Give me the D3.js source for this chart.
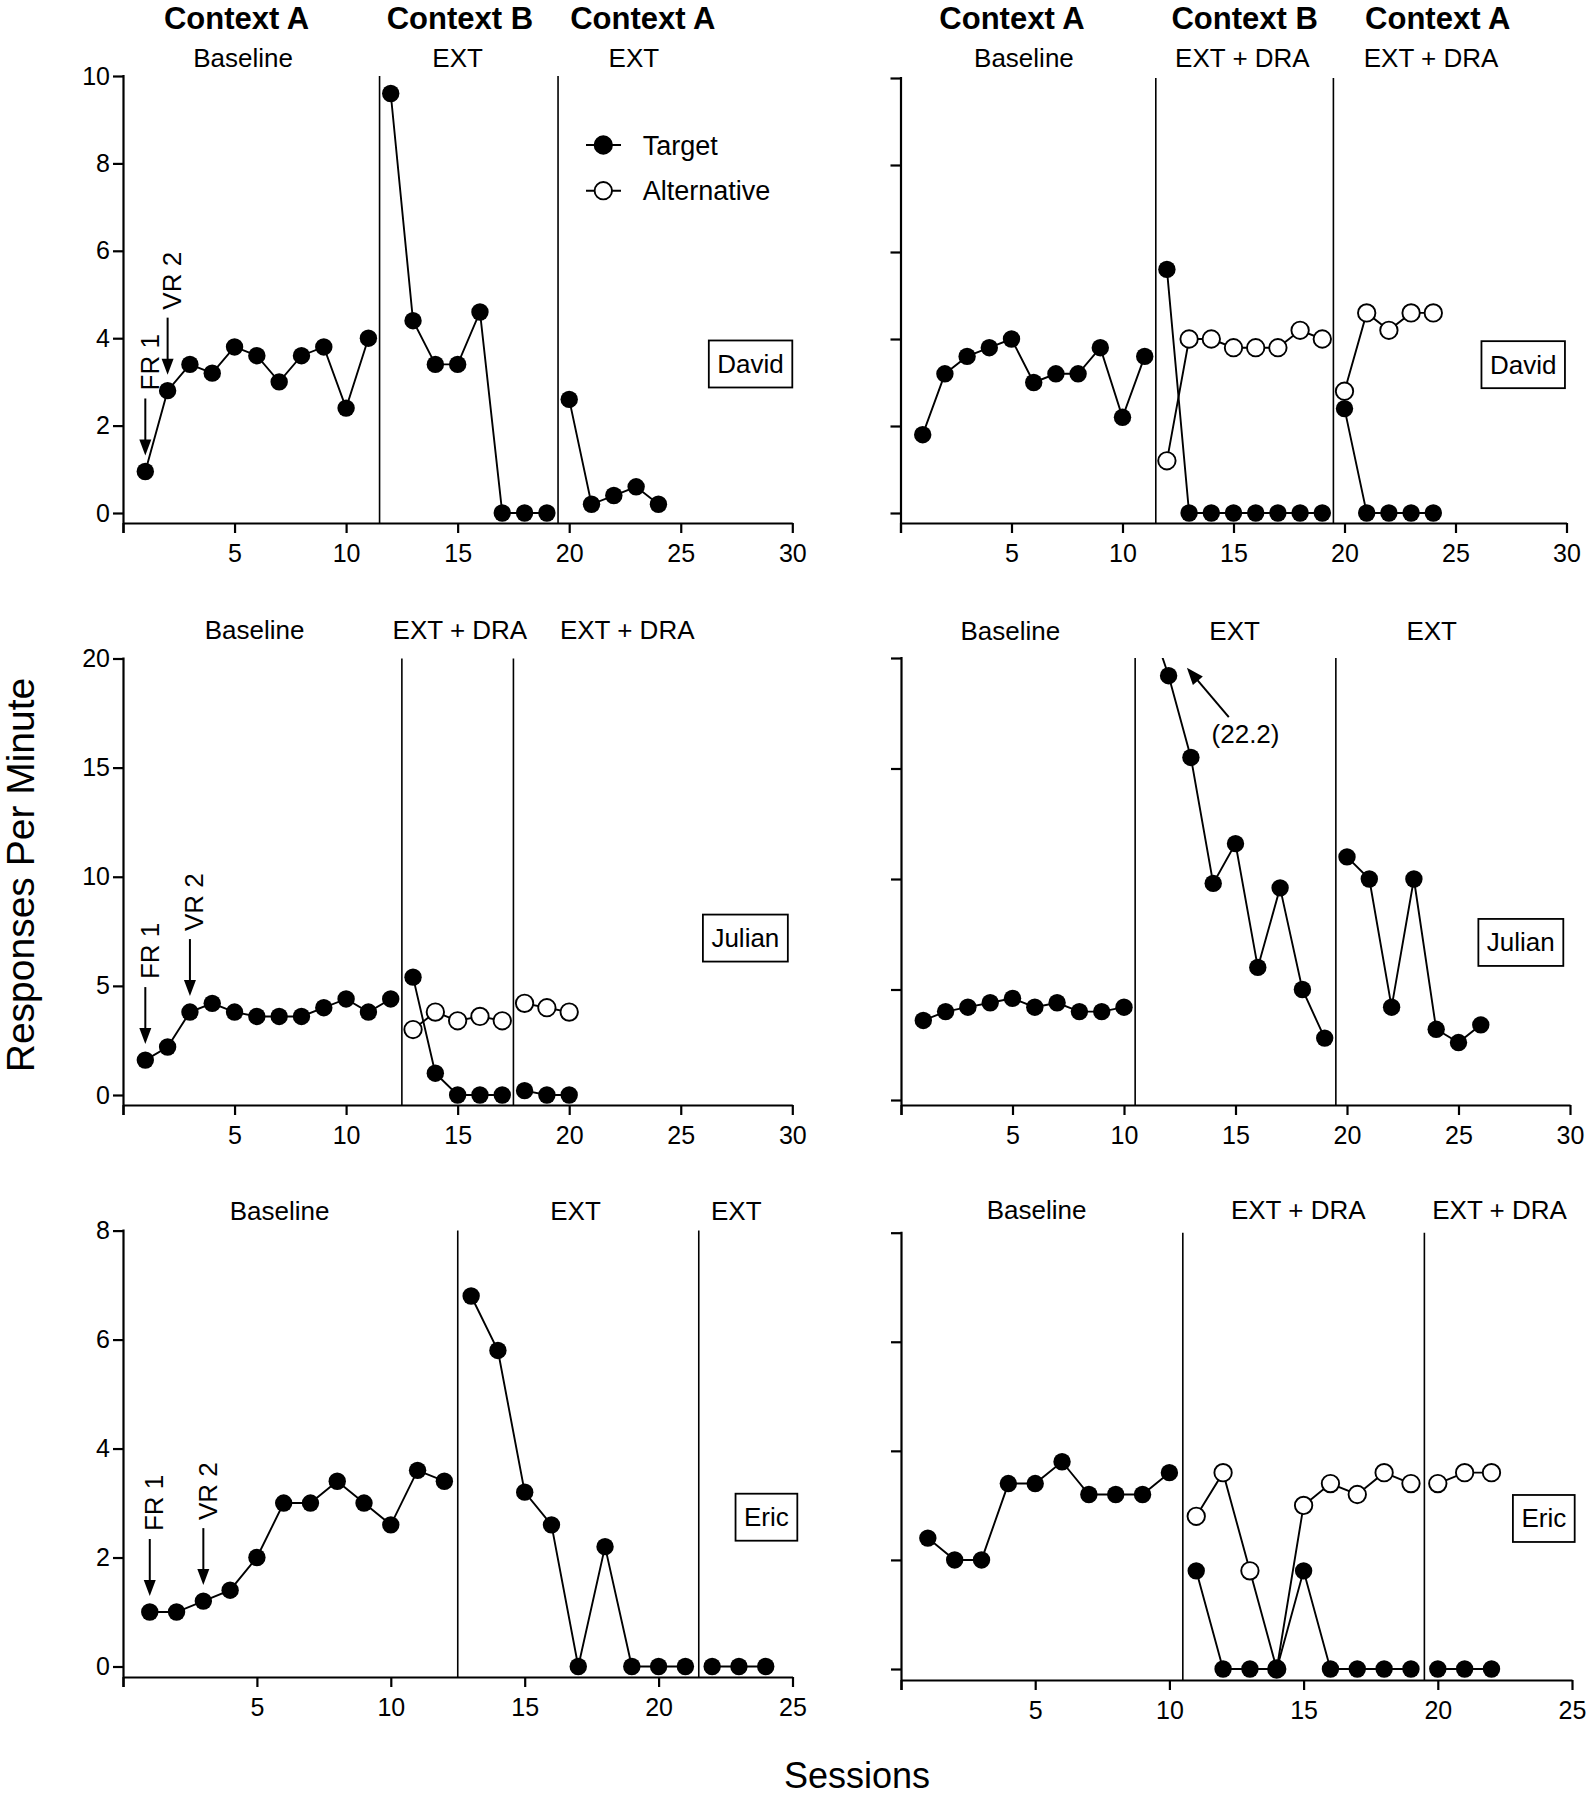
<!DOCTYPE html>
<html>
<head>
<meta charset="utf-8">
<script src="https://cdnjs.cloudflare.com/ajax/libs/d3/7.8.5/d3.min.js"></script>
<style>
  body { margin: 0; background: #fff; }
  svg { display: block; }
  text { font-family: "Liberation Sans", Arial, Helvetica, sans-serif; fill: #000; }
</style>
</head>
<body>
<div id="chart"></div>
<script>
var WIDTH = 1587
var HEIGHT = 1800

// session n sits at index n-1, null = no data for that session
const davidExtTarget = [0.95, 2.8, 3.4, 3.2, 3.8, 3.6, 3.0, 3.6, 3.8, 2.4, 4.0,
    9.6, 4.4, 3.4, 3.4, 4.6, 0, 0, 0,
    2.6, 0.2, 0.4, 0.6, 0.2];
const davidDraTarget = [1.8, 3.2, 3.6, 3.8, 4.0, 3.0, 3.2, 3.2, 3.8, 2.2, 3.6,
    5.6, 0, 0, 0, 0, 0, 0, 0,
    2.4, 0, 0, 0, 0];
const davidDraAlt = [null, null, null, null, null, null, null, null, null, null, null,
    1.2, 4.0, 4.0, 3.8, 3.8, 3.8, 4.2, 4.0,
    2.8, 4.6, 4.2, 4.6, 4.6];
const julianDraTarget = [1.6, 2.2, 3.8, 4.2, 3.8, 3.6, 3.6, 3.6, 4.0, 4.4, 3.8, 4.4,
    5.4, 1.0, 0, 0, 0,
    0.2, 0, 0];
const julianDraAlt = [null, null, null, null, null, null, null, null, null, null, null, null,
    3.0, 3.8, 3.4, 3.6, 3.4,
    4.2, 4.0, 3.8];
const julianExtTarget = [3.6, 4.0, 4.2, 4.4, 4.6, 4.2, 4.4, 4.0, 4.0, 4.2,
    22.2, 19.2, 15.5, 9.8, 11.6, 6.0, 9.6, 5.0, 2.8,
    11.0, 10.0, 4.2, 10.0, 3.2, 2.6, 3.4];
const ericExtTarget = [1.0, 1.0, 1.2, 1.4, 2.0, 3.0, 3.0, 3.4, 3.0, 2.6, 3.6, 3.4,
    6.8, 5.8, 3.2, 2.6, 0, 2.2, 0, 0, 0,
    0, 0, 0];
const ericDraTarget = [2.4, 2.0, 2.0, 3.4, 3.4, 3.8, 3.2, 3.2, 3.2, 3.6,
    1.8, 0, 0, 0, 1.8, 0, 0, 0, 0,
    0, 0, 0];
const ericDraAlt = [null, null, null, null, null, null, null, null, null, null,
    2.8, 3.6, 1.8, 0, 3.0, 3.4, 3.2, 3.6, 3.4,
    3.4, 3.6, 3.6];

// phase change lines (between sessions)
const davidExtChanges = [11.5, 19.5];
const davidDraChanges = [11.5, 19.5];
const julianDraChanges = [12.5, 17.5];
const julianExtChanges = [10.5, 19.5];
const ericExtChanges = [12.5, 21.5];
const ericDraChanges = [10.5, 19.5];

// ticks
const xTicks30 = [0, 5, 10, 15, 20, 25, 30];
const xTicks25 = [0, 5, 10, 15, 20, 25];
const yTicks10 = [0, 2, 4, 6, 8, 10];
const yTicks20 = [0, 5, 10, 15, 20];
const yTicks8 = [0, 2, 4, 6, 8];

// labels
const contextNames = ['Context A', 'Context B', 'Context A'];
const phasesExt = ['Baseline', 'EXT', 'EXT'];
const phasesDra = ['Baseline', 'EXT + DRA', 'EXT + DRA'];
const seriesNames = ['Target', 'Alternative'];

const panels = [
    { name: 'David', target: davidExtTarget, alt: null, changes: davidExtChanges,
      xMax: 30, xTicks: xTicks30, yMax: 10, yTicks: yTicks10, yLabels: true,
      left: 123, right: 792.3, topY: 76, zeroY: 513, axisY: 523,
      phases: phasesExt, phaseX: [5.38, 15.0, 22.9], phaseY: 67,
      contexts: contextNames, contextX: [5.09, 15.1, 23.3], contextY: 29,
      namePos: [30.0, 3.41], rate: [['FR 1', 1], ['VR 2', 2]], legend: true },
    { name: 'David', target: davidDraTarget, alt: davidDraAlt, changes: davidDraChanges,
      xMax: 30, xTicks: xTicks30, yMax: 10, yTicks: yTicks10, yLabels: false,
      left: 900.5, right: 1566.5, topY: 78, zeroY: 513, axisY: 523,
      phases: phasesDra, phaseX: [5.56, 15.4, 23.9], phaseY: 67,
      contexts: contextNames, contextX: [5.02, 15.5, 24.2], contextY: 29,
      namePos: [29.93, 3.41], rate: [] },
    { name: 'Julian', target: julianDraTarget, alt: julianDraAlt, changes: julianDraChanges,
      xMax: 30, xTicks: xTicks30, yMax: 20, yTicks: yTicks20, yLabels: true,
      left: 123, right: 792.3, topY: 658.5, zeroY: 1095, axisY: 1105,
      phases: phasesDra, phaseX: [5.9, 15.1, 22.6], phaseY: 639,
      namePos: [29.8, 7.19], rate: [['FR 1', 1], ['VR 2', 3]] },
    { name: 'Julian', target: julianExtTarget, alt: null, changes: julianExtChanges,
      xMax: 30, xTicks: xTicks30, yMax: 20, yTicks: yTicks20, yLabels: false,
      left: 901, right: 1570, topY: 658, zeroY: 1100, axisY: 1105,
      phases: phasesExt, phaseX: [4.9, 14.96, 23.8], phaseY: 640,
      namePos: [29.7, 7.13], rate: [], offscale: true },
    { name: 'Eric', target: ericExtTarget, alt: null, changes: ericExtChanges,
      xMax: 25, xTicks: xTicks25, yMax: 8, yTicks: yTicks8, yLabels: true,
      left: 123, right: 792.5, topY: 1230.6, zeroY: 1666.5, axisY: 1677,
      phases: phasesExt, phaseX: [5.85, 16.9, 22.9], phaseY: 1220,
      namePos: [25.18, 2.74], rate: [['FR 1', 1], ['VR 2', 3]] },
    { name: 'Eric', target: ericDraTarget, alt: ericDraAlt, changes: ericDraChanges,
      xMax: 25, xTicks: xTicks25, yMax: 8, yTicks: yTicks8, yLabels: false,
      left: 901, right: 1572, topY: 1232.7, zeroY: 1669, axisY: 1680,
      phases: phasesDra, phaseX: [5.05, 14.8, 22.3], phaseY: 1219,
      namePos: [25.1, 2.76], rate: [] }
];

const R = 8.7;

const svg = d3.select('#chart').append('svg')
    .attr('width', WIDTH)
    .attr('height', HEIGHT);

svg.append('rect')
    .attr('width', WIDTH)
    .attr('height', HEIGHT)
    .attr('fill', '#fff');

const defs = svg.append('defs');

panels.forEach((p, i) => drawPanel(p, i));

// axis titles
svg.append('text')
    .attr('transform', 'translate(34,875) rotate(-90)')
    .attr('text-anchor', 'middle')
    .attr('font-size', 39)
    .text('Responses Per Minute');

svg.append('text')
    .attr('x', 857)
    .attr('y', 1788)
    .attr('text-anchor', 'middle')
    .attr('font-size', 36)
    .text('Sessions');


function segments(values, changes) {
    let segs = [];
    let cur = null;
    let curPhase = -1;
    values.forEach((v, i) => {
        if (v === null) return;
        let s = i + 1;
        let ph = changes.filter(c => c < s).length;
        if (ph !== curPhase) {
            cur = [];
            segs.push(cur);
            curPhase = ph;
        }
        cur.push({ s: s, v: v });
    });
    return segs;
}

function arrowHead(g, x1, y1, x2, y2, len, half) {
    // filled triangle at (x2,y2) pointing from (x1,y1)
    let dx = x2 - x1, dy = y2 - y1;
    let d = Math.sqrt(dx * dx + dy * dy);
    let ux = dx / d, uy = dy / d;
    let bx = x2 - ux * len, by = y2 - uy * len;
    g.append('line')
        .attr('x1', x1).attr('y1', y1)
        .attr('x2', bx + ux * 2).attr('y2', by + uy * 2)
        .attr('stroke', '#000')
        .attr('stroke-width', 2);
    g.append('polygon')
        .attr('points', [
            [x2, y2],
            [bx - uy * half, by + ux * half],
            [bx + uy * half, by - ux * half]
        ].map(q => q.join(',')).join(' '))
        .attr('fill', '#000');
}

function drawPanel(p, idx) {
    let xScale = d3.scaleLinear().domain([0, p.xMax]).range([p.left, p.right]);
    let yScale = d3.scaleLinear().domain([0, p.yMax]).range([p.zeroY, p.topY]);

    let g = svg.append('g');

    let clipId = 'clip' + idx;
    defs.append('clipPath').attr('id', clipId)
        .append('rect')
        .attr('x', p.left - 20)
        .attr('y', p.topY)
        .attr('width', p.right - p.left + 40)
        .attr('height', p.axisY - p.topY);

    // x axis
    let xAxis = d3.axisBottom(xScale)
        .tickValues(p.xTicks)
        .tickSize(10)
        .tickSizeOuter(0)
        .tickPadding(11)
        .tickFormat(d => d === 0 ? '' : d);
    let xa = g.append('g')
        .attr('transform', 'translate(0,' + p.axisY + ')')
        .call(xAxis);
    xa.select('.domain').attr('stroke-width', 2.2);
    xa.selectAll('.tick line').attr('stroke-width', 2.2);
    xa.selectAll('.tick text')
        .attr('font-size', 25)
        .attr('font-family', '"Liberation Sans", Arial, Helvetica, sans-serif');

    // y axis
    let yAxis = d3.axisLeft(yScale)
        .tickValues(p.yTicks)
        .tickSize(10)
        .tickSizeOuter(0)
        .tickPadding(3)
        .tickFormat(d => p.yLabels ? d : '');
    let ya = g.append('g')
        .attr('transform', 'translate(' + p.left + ',0)')
        .call(yAxis);
    ya.select('.domain').remove();
    ya.selectAll('.tick line').attr('stroke-width', 2.2);
    ya.selectAll('.tick text')
        .attr('font-size', 25)
        .attr('font-family', '"Liberation Sans", Arial, Helvetica, sans-serif');
    g.append('line')
        .attr('x1', p.left + 0.5).attr('x2', p.left + 0.5)
        .attr('y1', p.topY - 1).attr('y2', p.axisY + 10)
        .attr('stroke', '#000')
        .attr('stroke-width', 2.2);

    // phase change lines
    g.selectAll('.phaseLine')
        .data(p.changes)
        .enter()
        .append('line')
        .attr('class', 'phaseLine')
        .attr('x1', d => xScale(d)).attr('x2', d => xScale(d))
        .attr('y1', p.topY).attr('y2', p.axisY)
        .attr('stroke', '#000')
        .attr('stroke-width', 1.6);

    // phase and context headers
    g.selectAll('.phaseLabel')
        .data(p.phases)
        .enter()
        .append('text')
        .attr('class', 'phaseLabel')
        .attr('x', (d, i) => xScale(p.phaseX[i]))
        .attr('y', p.phaseY)
        .attr('text-anchor', 'middle')
        .attr('font-size', 26)
        .text(d => d);

    if (p.contexts) {
        g.selectAll('.contextLabel')
            .data(p.contexts)
            .enter()
            .append('text')
            .attr('class', 'contextLabel')
            .attr('x', (d, i) => xScale(p.contextX[i]))
            .attr('y', p.contextY)
            .attr('text-anchor', 'middle')
            .attr('font-size', 31)
            .attr('font-weight', 'bold')
            .text(d => d);
    }

    // data
    let line = d3.line().x(d => xScale(d.s)).y(d => yScale(d.v));
    let plot = g.append('g').attr('clip-path', 'url(#' + clipId + ')');

    let allSegs = segments(p.target, p.changes);
    if (p.alt) allSegs = allSegs.concat(segments(p.alt, p.changes));
    plot.selectAll('path.series')
        .data(allSegs)
        .enter()
        .append('path')
        .attr('class', 'series')
        .attr('d', line)
        .attr('fill', 'none')
        .attr('stroke', '#000')
        .attr('stroke-width', 1.9);

    if (p.alt) {
        let altPts = p.alt.map((v, i) => ({ s: i + 1, v: v })).filter(d => d.v !== null);
        plot.selectAll('circle.alt')
            .data(altPts)
            .enter()
            .append('circle')
            .attr('class', 'alt')
            .attr('cx', d => xScale(d.s))
            .attr('cy', d => yScale(d.v))
            .attr('r', R)
            .attr('fill', '#fff')
            .attr('stroke', '#000')
            .attr('stroke-width', 1.9);
    }

    let tPts = p.target.map((v, i) => ({ s: i + 1, v: v })).filter(d => d.v !== null);
    plot.selectAll('circle.target')
        .data(tPts)
        .enter()
        .append('circle')
        .attr('class', 'target')
        .attr('cx', d => xScale(d.s))
        .attr('cy', d => yScale(d.v))
        .attr('r', R)
        .attr('fill', '#000');

    // schedule arrows (FR 1 / VR 2)
    p.rate.forEach(r => {
        let cx = xScale(r[1]);
        let cy = yScale(p.target[r[1] - 1]);
        let tip = cy - 16;
        let tail = tip - 57;
        arrowHead(g, cx, tail, cx, tip, 16, 6);
        g.append('text')
            .attr('transform', 'translate(' + (cx + 13.5) + ',' + (tail - 8) + ') rotate(-90)')
            .attr('text-anchor', 'start')
            .attr('font-size', 26)
            .text(r[0]);
    });

    // off-scale value note
    if (p.offscale) {
        arrowHead(g, xScale(14.70), yScale(17.32), xScale(12.82), yScale(19.56), 17, 6.5);
        g.append('text')
            .attr('x', xScale(15.45))
            .attr('y', yScale(16.16))
            .attr('text-anchor', 'middle')
            .attr('font-size', 26)
            .text('(' + p.target[10] + ')');
    }

    // participant box
    let nameX = xScale(p.namePos[0]);
    let nameY = yScale(p.namePos[1]);
    let nt = g.append('text')
        .attr('y', nameY + 9)
        .attr('text-anchor', 'middle')
        .attr('font-size', 26)
        .text(p.name);
    let w = nt.node().getComputedTextLength() + 17;
    nt.attr('x', nameX - w / 2);
    g.append('rect')
        .attr('x', nameX - w)
        .attr('y', nameY - 23.5)
        .attr('width', w)
        .attr('height', 47)
        .attr('fill', 'none')
        .attr('stroke', '#000')
        .attr('stroke-width', 1.8);

    // legend
    if (p.legend) {
        let lg = g.append('g');
        seriesNames.forEach((n, i) => {
            let ly = 145 + i * 45.7;
            lg.append('line')
                .attr('x1', 586).attr('x2', 621)
                .attr('y1', ly).attr('y2', ly)
                .attr('stroke', '#000')
                .attr('stroke-width', 1.9);
            lg.append('circle')
                .attr('cx', 603.3).attr('cy', ly)
                .attr('r', R)
                .attr('fill', i === 0 ? '#000' : '#fff')
                .attr('stroke', '#000')
                .attr('stroke-width', 1.9);
            lg.append('text')
                .attr('x', 642.7)
                .attr('y', ly + 9.5)
                .attr('font-size', 27)
                .text(n);
        });
    }
}
</script>
</body>
</html>
